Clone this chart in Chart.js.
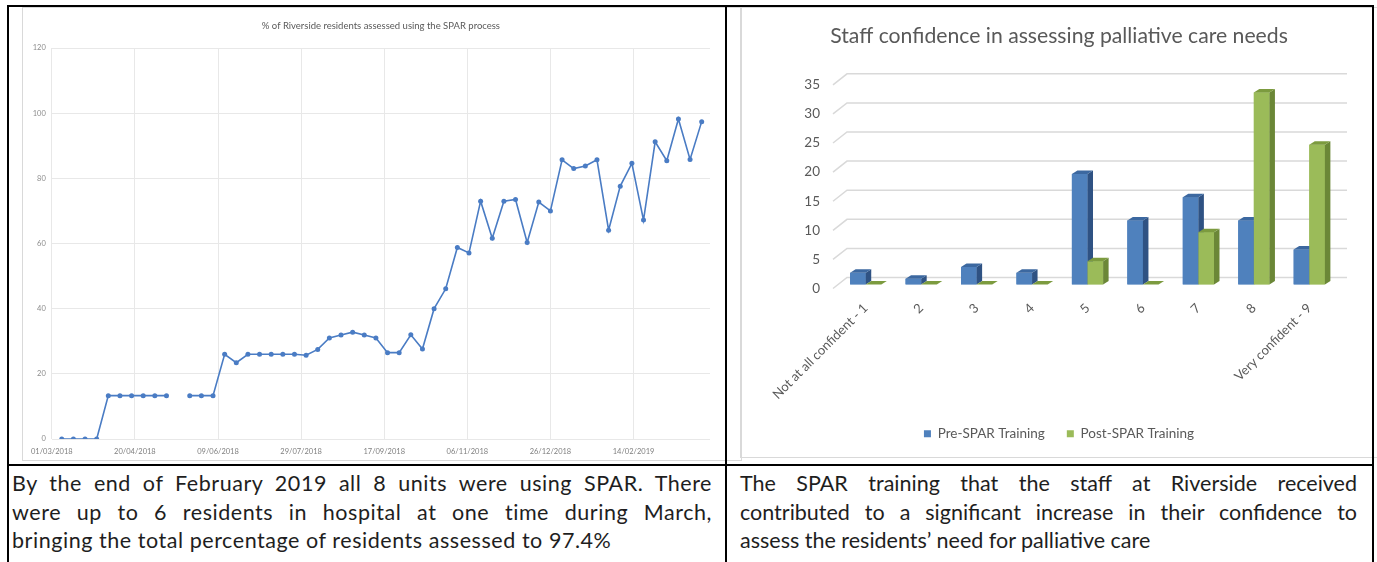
<!DOCTYPE html>
<html><head><meta charset="utf-8">
<script src="https://cdn.jsdelivr.net/npm/chart.js@4.4.1/dist/chart.umd.min.js"></script>
<style>
html,body{margin:0;padding:0;background:#fff;width:1377px;height:562px;overflow:hidden;font-family:Lato,sans-serif;}
.bl{position:absolute;background:#000;}
.box{position:absolute;border:1px solid #d9d9d9;box-sizing:border-box;}
.cell{position:absolute;font-family:Lato,sans-serif;font-size:21.5px;line-height:28.5px;color:#1e1e1e;}
.cell div{white-space:nowrap;}
.cell div.j{text-align:justify;text-align-last:justify;white-space:normal;}
canvas{position:absolute;}
</style></head>
<body>
<div class="box" style="left:22px;top:7px;width:720px;height:454px;"></div>
<div class="box" style="left:740px;top:7px;width:700px;height:451px;"></div>
<canvas id="cL" width="702" height="452" style="left:23px;top:9px;"></canvas>
<canvas id="cR" width="630" height="447" style="left:741px;top:9px;"></canvas>
<div class="cell" id="tL" style="left:12px;top:469px;width:700px;"></div>
<div class="cell" id="tR" style="left:740px;top:469px;width:617px;"></div>
<div class="bl" style="left:7px;top:5px;width:1367px;height:2px;"></div>
<div class="bl" style="left:7px;top:5px;width:2px;height:560px;"></div>
<div class="bl" style="left:725px;top:5px;width:2px;height:560px;"></div>
<div class="bl" style="left:1372px;top:5px;width:2px;height:560px;"></div>
<div class="bl" style="left:7px;top:464px;width:1367px;height:2px;"></div>
<script>
// ---------- Left chart data ----------
const weekDates = ['07/03/2018','14/03/2018','21/03/2018','28/03/2018','04/04/2018','11/04/2018','18/04/2018','25/04/2018',
 '02/05/2018','09/05/2018','16/05/2018','23/05/2018','30/05/2018','06/06/2018','13/06/2018','20/06/2018','27/06/2018',
 '04/07/2018','11/07/2018','18/07/2018','25/07/2018','01/08/2018','08/08/2018','15/08/2018','22/08/2018','29/08/2018',
 '05/09/2018','12/09/2018','19/09/2018','26/09/2018','03/10/2018','10/10/2018','17/10/2018','24/10/2018','31/10/2018',
 '07/11/2018','14/11/2018','21/11/2018','28/11/2018','05/12/2018','12/12/2018','19/12/2018','26/12/2018',
 '02/01/2019','09/01/2019','16/01/2019','23/01/2019','30/01/2019','06/02/2019','13/02/2019','20/02/2019','27/02/2019',
 '06/03/2019','13/03/2019','20/03/2019','27/03/2019'];
const pctAssessed = [0,0,0,0,13.3,13.3,13.3,13.3,13.3,13.3,null,13.3,13.3,13.3,
 26,23.4,26,26,26,26,26,25.7,27.5,31,31.9,32.8,31.9,31,26.5,26.5,32,27.6,40,46.1,58.8,57.1,
 73,61.6,73,73.5,60.3,72.7,70,85.7,83,83.8,85.7,64.1,77.6,84.6,67.2,91.2,85.4,98.2,85.8,97.4];
const xTickLabels = ['01/03/2018','20/04/2018','09/06/2018','29/07/2018','17/09/2018','06/11/2018','26/12/2018','14/02/2019'];
const xAxisEnd = '01/04/2019';
const yTicksLeft = [0,20,40,60,80,100,120];
const leftTitle = '% of Riverside residents assessed using the SPAR process';

// ---------- Right chart data ----------
const confidenceLevels = ['Not at all confident - 1','2','3','4','5','6','7','8','Very confident - 9'];
const preSpar = [2,1,3,2,19,11,15,11,6];
const postSpar = [0,0,0,0,4,0,9,33,24];
const yTicksRight = [0,5,10,15,20,25,30,35];
const rightTitle = 'Staff confidence in assessing palliative care needs';

// ---------- Cell texts ----------
const leftText = ['By the end of February 2019 all 8 units were using SPAR. There',
 'were up to 6 residents in hospital at one time during March,',
 'bringing the total percentage of residents assessed to 97.4%'];
const rightText = ['The SPAR training that the staff at Riverside received',
 'contributed to a significant increase in their confidence to',
 'assess the residents\u2019 need for palliative care'];

function fillCell(id, lines, lastWidth){
  const el = document.getElementById(id);
  const mc = document.createElement('canvas').getContext('2d');
  mc.font = '21.5px Lato';
  const last = lines[lines.length-1];
  const ls = (lastWidth - mc.measureText(last).width) / last.length;
  el.style.letterSpacing = Math.max(0, ls).toFixed(2) + 'px';
  lines.forEach((t,i)=>{ const d=document.createElement('div'); if(i<lines.length-1) d.className='j'; d.textContent=t; el.appendChild(d); });
}
fillCell('tL', leftText, 600); fillCell('tR', rightText, 385);

function dayOf(s){ const [d,m,y]=s.split('/').map(Number); return Date.UTC(y,m-1,d)/86400000; }
const day0 = dayOf(xTickLabels[0]);
const rel = s => dayOf(s) - day0;

Chart.defaults.font.family = 'Lato, sans-serif';

new Chart(document.getElementById('cL'), {
  type:'line',
  data:{datasets:[{
    data: weekDates.map((d,i)=>({x:rel(d), y:pctAssessed[i]})),
    borderColor:'#4A7CC4', backgroundColor:'#4A7CC4', borderWidth:1.6,
    pointRadius:2.5, pointBorderWidth:0, pointBackgroundColor:'#4A7CC4',
    spanGaps:false, tension:0
  }]},
  options:{
    responsive:false, animation:false, devicePixelRatio:1,
    layout:{padding:{left:0,right:15,top:0,bottom:0}},
    plugins:{legend:{display:false}, tooltip:{enabled:false},
      title:{display:true, fullSize:false, text:leftTitle, color:'#595959', font:{size:9.5, weight:'normal'}, padding:{top:11,bottom:16.6}}},
    scales:{
      x:{type:'linear', min:0, max:rel(xAxisEnd),
        afterBuildTicks:s=>{ s.ticks = xTickLabels.map(l=>({value:rel(l)})); },
        ticks:{callback:(v)=>{ const i=xTickLabels.findIndex(l=>rel(l)===v); return i>=0?xTickLabels[i]:''; },
          color:'#7f7f7f', font:{size:7.5}, padding:8, maxRotation:0, autoSkip:false},
        grid:{color:'#e8e8e8', drawTicks:false}, border:{display:false},
        afterFit:s=>{ s.height=22; }},
      y:{min:0, max:120,
        afterBuildTicks:s=>{ s.ticks = yTicksLeft.map(v=>({value:v})); },
        ticks:{color:'#8c8c8c', font:{size:7.5}, padding:6},
        grid:{color:'#e8e8e8', drawTicks:false}, border:{display:false},
        afterFit:s=>{ s.width=25; }}
    }
  }
});

const wall3d = {id:'wall3d', beforeDatasetsDraw(chart){
  const {ctx, chartArea:a, scales:{y}} = chart;
  ctx.save(); ctx.strokeStyle='#d9d9d9'; ctx.lineWidth=1.5;
  y.ticks.forEach(t=>{
    const py = y.getPixelForValue(t.value);
    ctx.beginPath(); ctx.moveTo(a.left-5, py+4); ctx.lineTo(a.left+9, py-7); ctx.lineTo(a.right+10, py-7); ctx.stroke();
  });
  ctx.restore();
}};
// redraw bars dataset by dataset (in index order) adding side and top faces
const bars3d = {id:'bars3d', afterDatasetsDraw(chart){
  const ctx = chart.ctx, dx=5.5, dy=3.5;
  chart.data.datasets.forEach((ds, di)=>{
    const meta = chart.getDatasetMeta(di);
    ctx.save();
    meta.data.forEach(bar=>{
      bar.draw(ctx, chart.chartArea);
      const {x,y,base,width} = bar.getProps(['x','y','base','width'], true);
      const l=x-width/2, r=x+width/2;
      ctx.fillStyle = ds.sideColor;
      ctx.beginPath(); ctx.moveTo(r,y); ctx.lineTo(r+dx,y-dy); ctx.lineTo(r+dx,base-dy); ctx.lineTo(r,base); ctx.closePath(); ctx.fill();
      ctx.fillStyle = ds.topColor;
      ctx.beginPath(); ctx.moveTo(l,y); ctx.lineTo(l+dx,y-dy); ctx.lineTo(r+dx,y-dy); ctx.lineTo(r,y); ctx.closePath(); ctx.fill();
    });
    ctx.restore();
  });
}};

new Chart(document.getElementById('cR'), {
  type:'bar',
  data:{labels:confidenceLevels, datasets:[
    {label:'Pre-SPAR Training', data:preSpar, backgroundColor:'#4F81BD', sideColor:'#2F5283', topColor:'#3C68A0'},
    {label:'Post-SPAR Training', data:postSpar, backgroundColor:'#9BBB59', sideColor:'#6B8737', topColor:'#7C9B3F'}
  ]},
  options:{
    responsive:false, animation:false, devicePixelRatio:1,
    datasets:{bar:{categoryPercentage:0.563, barPercentage:1, borderWidth:0}},
    layout:{padding:{left:40,right:34,top:0,bottom:5.5}},
    plugins:{
      tooltip:{enabled:false},
      title:{display:true, text:rightTitle, color:'#595959', font:{size:21.2, weight:'normal'}, padding:{top:14.3,bottom:32.1}},
      legend:{position:'bottom', labels:{boxWidth:7, boxHeight:7, padding:22, color:'#595959', font:{size:13.5}}}
    },
    scales:{
      x:{grid:{display:false, drawTicks:false}, border:{display:false},
        ticks:{minRotation:45, maxRotation:45, padding:16, color:'#595959', font:{size:13}, autoSkip:false},
        afterFit:s=>{ s.height=120.5; }},
      y:{min:0, max:35,
        afterBuildTicks:s=>{ s.ticks = yTicksRight.map(v=>({value:v})); },
        ticks:{labelOffset:4, padding:18, color:'#595959', font:{size:13.5}},
        grid:{display:false, drawTicks:false}, border:{display:false},
        afterFit:s=>{ s.width=57; }}
    }
  },
  plugins:[wall3d, bars3d]
});
</script>
</body></html>
